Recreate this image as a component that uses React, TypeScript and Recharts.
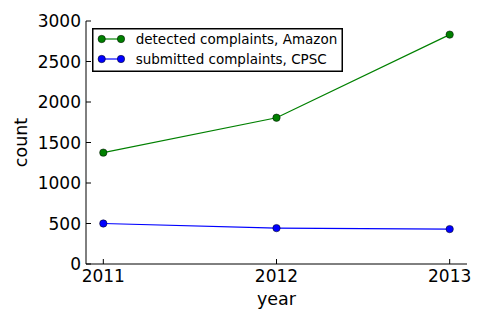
import { LineChart, Line, XAxis, YAxis, Legend } from 'recharts'

// values
const years = [2011, 2012, 2013]
const amazonDetected = [1375, 1806, 2832]
const cpscSubmitted = [500, 443, 431]
const xTicks = [2011, 2012, 2013]
const yTicks = [0, 500, 1000, 1500, 2000, 2500, 3000]
const seriesNames = ['detected complaints, Amazon', 'submitted complaints, CPSC']
const seriesColors = ['#008000', '#0000ff']

const data = years.map((year, i) => ({
  year,
  amazon: amazonDetected[i],
  cpsc: cpscSubmitted[i],
}))

const FONT = '"DejaVu Sans", sans-serif'
const TICK_LEN = 5
const TICK_FONT = 17

function BottomTick({ x, y, payload }: any) {
  return (
    <g>
      <line x1={x} x2={x} y1={y} y2={y - TICK_LEN} stroke="#000" />
      <text x={x} y={y + 18} textAnchor="middle" fontSize={TICK_FONT} fontFamily={FONT} fill="#000">
        {payload.value}
      </text>
    </g>
  )
}

function TopTick({ x, y }: any) {
  return <line x1={x} x2={x} y1={y} y2={y + TICK_LEN} stroke="#000" />
}

function LeftTick({ x, y, payload }: any) {
  return (
    <g>
      <line x1={x} x2={x + TICK_LEN} y1={y} y2={y} stroke="#000" />
      <text x={x - 5} y={y} dy="0.36em" textAnchor="end" fontSize={TICK_FONT} fontFamily={FONT} fill="#000">
        {payload.value}
      </text>
    </g>
  )
}

function RightTick({ x, y }: any) {
  return <line x1={x} x2={x - TICK_LEN} y1={y} y2={y} stroke="#000" />
}

function CountLabel({ viewBox }: any) {
  const cx = 26.5
  const cy = viewBox.y + viewBox.height / 2
  return (
    <text x={cx} y={cy} transform={`rotate(-90, ${cx}, ${cy})`} textAnchor="middle" fontSize={17.5} fontFamily={FONT} fill="#000">
      count
    </text>
  )
}

function LegendBox() {
  const rows = [11, 31]
  return (
    <svg width={251} height={44} style={{ display: 'block' }}>
      <rect x={0.75} y={0.75} width={249.5} height={42.5} fill="#fff" stroke="#000" strokeWidth={1.5} />
      {seriesNames.map((name, i) => (
        <g key={name}>
          <line x1={9.7} x2={29} y1={rows[i]} y2={rows[i]} stroke={seriesColors[i]} strokeWidth={1.2} />
          <circle cx={9.7} cy={rows[i]} r={3.7} fill={seriesColors[i]} stroke="#000" strokeWidth={0.5} />
          <circle cx={29} cy={rows[i]} r={3.7} fill={seriesColors[i]} stroke="#000" strokeWidth={0.5} />
          <text x={43.7} y={rows[i]} dy="0.36em" fontSize={13.5} fontFamily={FONT} fill="#000">
            {name}
          </text>
        </g>
      ))}
    </svg>
  )
}

export default function App() {
  return (
    <div style={{ position: 'absolute', left: 0, top: 0, background: '#fff' }}>
      <LineChart width={485} height={323} data={data} margin={{ top: 21, right: 18, bottom: 0, left: 0 }}>
        <XAxis
          dataKey="year"
          type="number"
          domain={[2010.9, 2013.1]}
          ticks={xTicks}
          interval={0}
          height={59}
          tickSize={0}
          tickMargin={0}
          tick={<BottomTick />}
          axisLine={{ stroke: '#000' }}
          label={{ value: 'year', position: 'insideBottom', offset: 18, fontSize: 17.5, fontFamily: FONT, fill: '#000' }}
        />
        <XAxis
          xAxisId="top"
          orientation="top"
          dataKey="year"
          type="number"
          domain={[2010.9, 2013.1]}
          ticks={xTicks}
          interval={0}
          height={0}
          tickSize={0}
          tickMargin={0}
          tick={<TopTick />}
          axisLine={{ stroke: '#000' }}
        />
        <YAxis
          type="number"
          domain={[0, 3000]}
          ticks={yTicks}
          interval={0}
          width={86}
          tickSize={0}
          tickMargin={0}
          tick={<LeftTick />}
          axisLine={{ stroke: '#000' }}
          label={(props: any) => <CountLabel {...props} />}
        />
        <YAxis
          yAxisId="right"
          orientation="right"
          type="number"
          domain={[0, 3000]}
          ticks={yTicks}
          interval={0}
          width={0}
          tickSize={0}
          tickMargin={0}
          tick={<RightTick />}
          axisLine={{ stroke: '#000' }}
        />
        <Legend
          layout="horizontal"
          verticalAlign="middle"
          align="center"
          wrapperStyle={{ position: 'absolute', left: 92, top: 28, width: 251, height: 44 }}
          content={() => <LegendBox />}
        />
        <Line
          dataKey="amazon"
          name={seriesNames[0]}
          stroke={seriesColors[0]}
          strokeWidth={1.2}
          dot={{ r: 3.7, fill: seriesColors[0], stroke: '#000', strokeWidth: 0.5 }}
          activeDot={false}
          isAnimationActive={false}
        />
        <Line
          dataKey="cpsc"
          name={seriesNames[1]}
          stroke={seriesColors[1]}
          strokeWidth={1.2}
          dot={{ r: 3.7, fill: seriesColors[1], stroke: '#000', strokeWidth: 0.5 }}
          activeDot={false}
          isAnimationActive={false}
        />
      </LineChart>
    </div>
  )
}
